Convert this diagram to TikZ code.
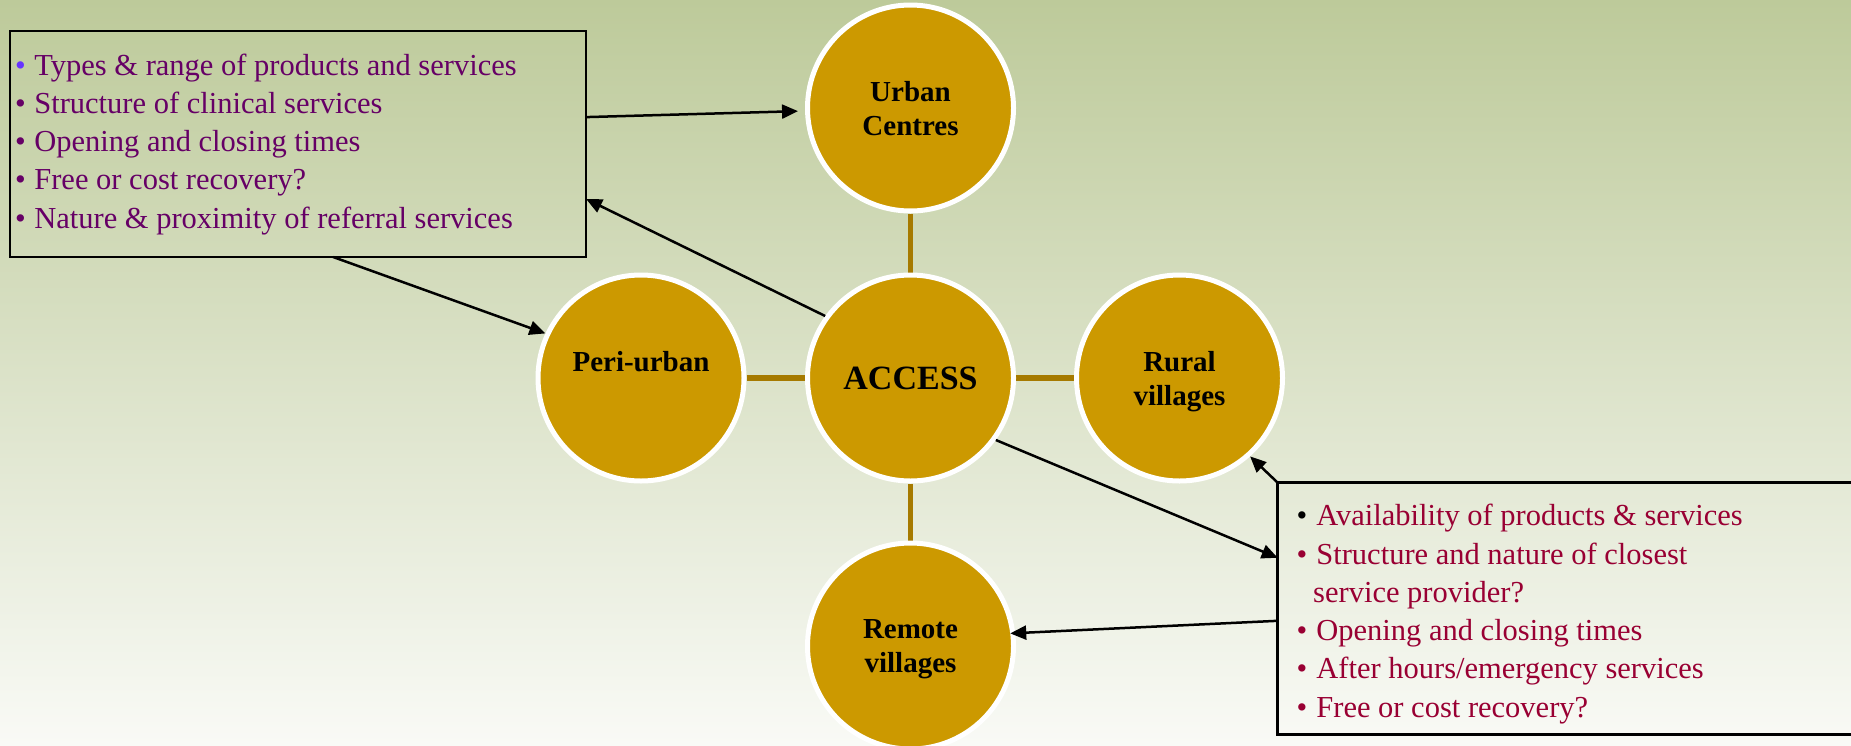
\documentclass[tikz,border=0pt]{standalone}
\usepackage{fontspec}
\setmainfont{Liberation Serif}
\usetikzlibrary{arrows.meta,calc,backgrounds}
\definecolor{gold}{HTML}{CC9900}
\definecolor{linkc}{HTML}{A67A00}
\definecolor{bgtop}{HTML}{BDCA9A}
\definecolor{bgbot}{HTML}{F9FAF6}
\definecolor{plum}{HTML}{660066}
\definecolor{crim}{HTML}{990033}
\definecolor{bulletviolet}{HTML}{6633FF}
\begin{document}
\begin{tikzpicture}[x=1pt,y=-1pt,
  circ/.style={circle, fill=gold, draw=white, line width=5pt, minimum size=206pt,
    inner sep=0pt, align=center, font=\fontsize{29}{34}\selectfont\bfseries, text depth=0pt},
  boxnode/.style={rectangle, draw=black, line width=2.5pt, inner sep=0pt, outer sep=0pt, anchor=north west},
  ltext/.style={anchor=base west, inner sep=0pt, text=plum, font=\fontsize{30.5}{38}\selectfont},
  rtext/.style={anchor=base west, inner sep=0pt, text=crim, font=\fontsize{30.5}{38}\selectfont},
  arr/.style={draw=black, line width=2.5pt, -{Triangle[length=16pt,width=14pt]}},
  link/.style={draw=linkc, line width=5.5pt}]
\useasboundingbox (0,0) rectangle (1851,745);
\clip (0,0) rectangle (1851,745);
% circles
\node[circ] (urban) at (910.5,108) {Urban\\Centres};
\node[circ, font=\fontsize{34}{40}\selectfont\bfseries] (access) at (910.5,378) {ACCESS};
\node[circ, text depth=34pt] (peri) at (641,378) {Peri-urban};
\node[circ] (rural) at (1179.5,378) {Rural\\villages};
\node[circ] (remote) at (910.5,646) {Remote\\villages};
% boxes
\node[boxnode, minimum width=576pt, minimum height=226pt] (lbox) at (10,31) {};
\node[boxnode, minimum width=640pt, minimum height=252pt] (rbox) at (1277.7,482.7) {};
% left box text
\node[ltext] (l1) at (15,75) {{\color{bulletviolet}•}\hspace{8.5pt}Types \& range of products and services};
\node[ltext] (l2) at (15,113.3) {•\hspace{8.5pt}Structure of clinical services};
\node[ltext] (l3) at (15,151.6) {•\hspace{8.5pt}Opening and closing times};
\node[ltext] (l4) at (15,189.9) {•\hspace{8.5pt}Free or cost recovery?};
\node[ltext] (l5) at (15,228.2) {•\hspace{8.5pt}Nature \& proximity of referral services};
% right box text
\node[rtext] (r1) at (1296.5,525) {{\color{black}•}\hspace{9pt}Availability of products \& services};
\node[rtext] (r2) at (1296.5,564) {•\hspace{9pt}Structure and nature of closest};
\node[rtext] (r3) at (1313,602.5) {service provider?};
\node[rtext] (r4) at (1296.5,640.5) {•\hspace{9pt}Opening and closing times};
\node[rtext] (r5) at (1296.5,678.8) {•\hspace{9pt}After hours/emergency services};
\node[rtext] (r6) at (1296.5,717) {•\hspace{9pt}Free or cost recovery?};
% connector end points on the boxes
\coordinate (la) at ($(lbox.north east)!0.381!(lbox.south east)$);
\coordinate (lb) at ($(lbox.north east)!0.743!(lbox.south east)$);
\coordinate (lc) at ($(lbox.south west)!0.561!(lbox.south east)$);
\coordinate (ra) at ($(rbox.north west)!0.298!(rbox.south west)$);
\coordinate (rb) at ($(rbox.north west)!0.548!(rbox.south west)$);
% arrows
\draw[arr, shorten >=7pt] (la) -- (urban);
\draw[arr] (access.144) -- (lb);
\draw[arr] (lc) -- (peri.155);
\draw[arr] (access.-36) -- (ra);
\draw[arr, shorten >=-5pt] (rb) -- (remote.7);
\draw[arr] (rbox.north west) -- (rural.-48);
% background and links
\begin{scope}[on background layer]
\fill[top color=bgtop, bottom color=bgbot] (0,0) rectangle (1851,745);
\draw[link] (urban) -- (access);
\draw[link] (peri) -- (access);
\draw[link] (access) -- (rural);
\draw[link] (access) -- (remote);
\end{scope}
\end{tikzpicture}
\end{document}
